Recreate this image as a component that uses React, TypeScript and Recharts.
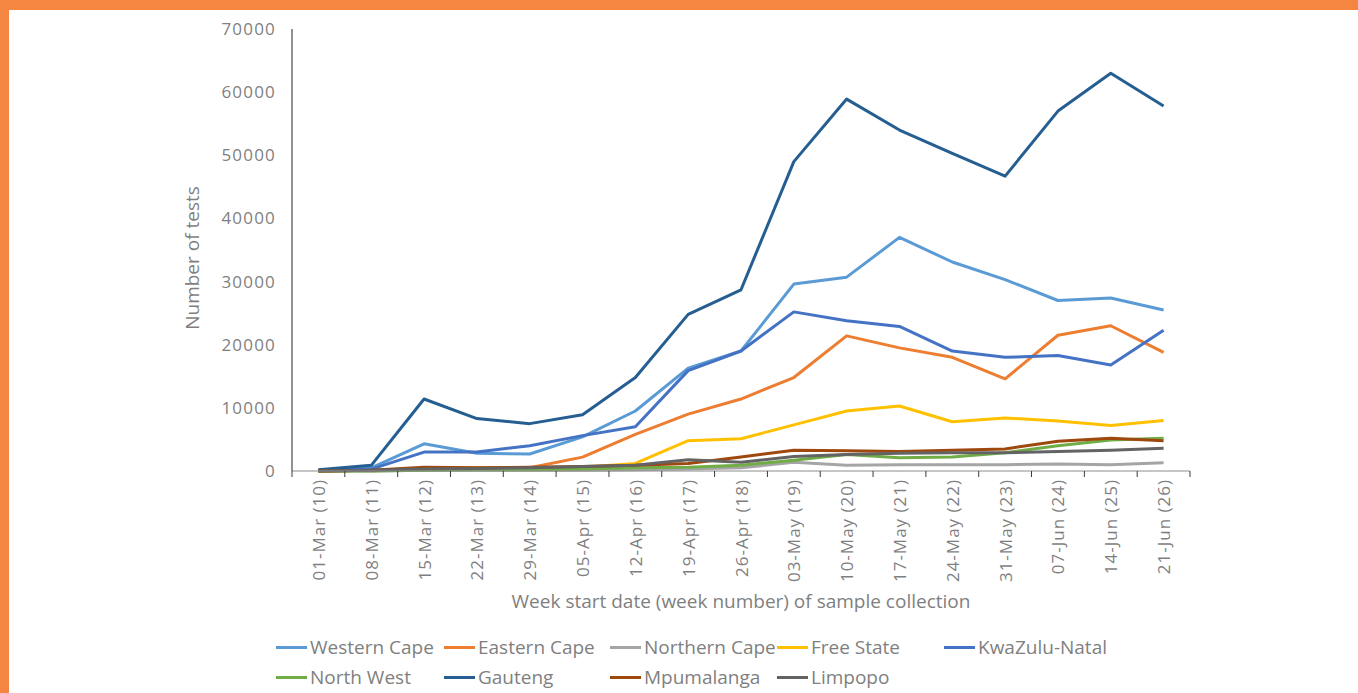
import React from "react";
import { LineChart, Line, XAxis, YAxis, Legend } from "recharts";

// Week start date (week number) of sample collection
const weeks = [
  "01-Mar (10)", "08-Mar (11)", "15-Mar (12)", "22-Mar (13)", "29-Mar (14)",
  "05-Apr (15)", "12-Apr (16)", "19-Apr (17)", "26-Apr (18)", "03-May (19)",
  "10-May (20)", "17-May (21)", "24-May (22)", "31-May (23)", "07-Jun (24)",
  "14-Jun (25)", "21-Jun (26)",
];

const westernCape = [100, 500, 4300, 2800, 2700, 5400, 9500, 16300, 19000, 29600, 30700, 37000, 33100, 30300, 27000, 27400, 25500];
const easternCape = [0, 100, 400, 500, 500, 2200, 5800, 9000, 11400, 14800, 21400, 19500, 18000, 14600, 21500, 23000, 18800];
const northernCape = [0, 0, 100, 100, 100, 100, 200, 300, 500, 1400, 900, 1000, 1000, 1000, 1100, 1000, 1300];
const freeState = [0, 100, 400, 500, 500, 600, 1200, 4800, 5100, 7300, 9500, 10300, 7800, 8400, 7900, 7200, 8000];
const kwaZuluNatal = [100, 300, 3000, 3000, 4000, 5600, 7000, 15900, 19000, 25200, 23800, 22900, 19000, 18000, 18300, 16800, 22300];
const northWest = [0, 0, 100, 200, 200, 300, 500, 600, 900, 1700, 2600, 2100, 2200, 2900, 4000, 4900, 5200];
const gauteng = [200, 900, 11400, 8300, 7500, 8900, 14800, 24800, 28700, 49000, 58900, 54000, 50300, 46700, 57000, 63000, 57800];
const mpumalanga = [0, 100, 600, 500, 600, 700, 900, 1200, 2200, 3300, 3200, 3100, 3300, 3500, 4700, 5200, 4800];
const limpopo = [0, 100, 300, 400, 500, 700, 900, 1800, 1400, 2300, 2600, 2800, 2900, 2900, 3100, 3300, 3600];

const yTicks = [0, 10000, 20000, 30000, 40000, 50000, 60000, 70000];

const series = [
  { key: "wc", name: "Western Cape", values: westernCape, color: "#5B9BD5" },
  { key: "ec", name: "Eastern Cape", values: easternCape, color: "#ED7D31" },
  { key: "nc", name: "Northern Cape", values: northernCape, color: "#A5A5A5" },
  { key: "fs", name: "Free State", values: freeState, color: "#FFC000" },
  { key: "kzn", name: "KwaZulu-Natal", values: kwaZuluNatal, color: "#4472C4" },
  { key: "nw", name: "North West", values: northWest, color: "#70AD47" },
  { key: "gp", name: "Gauteng", values: gauteng, color: "#255E91" },
  { key: "mp", name: "Mpumalanga", values: mpumalanga, color: "#9E480E" },
  { key: "lp", name: "Limpopo", values: limpopo, color: "#636363" },
];

const data = weeks.map((week, i) => {
  const row: any = { i, week };
  series.forEach((s) => (row[s.key] = s.values[i]));
  return row;
});

const W = 1358;
const H = 693;
const margin = { top: 29, right: 168, left: 172, bottom: 0 };
const plotW = W - margin.left - 120 - margin.right;
const step = plotW / weeks.length;
const FONT = "'Open Sans', sans-serif";
const GREY = "#7F7F7F";

const WeekTick = ({ x, y, payload }: any) => {
  const idx = payload.value;
  return (
    <g>
      <line x1={x - step / 2} x2={x - step / 2} y1={y} y2={y + 6} stroke="#3a3a3a" />
      {idx === weeks.length - 1 && (
        <line x1={x + step / 2} x2={x + step / 2} y1={y} y2={y + 6} stroke="#3a3a3a" />
      )}
      <text
        x={x}
        y={y + 8}
        transform={`rotate(-90, ${x}, ${y + 8})`}
        textAnchor="end"
        dominantBaseline="central"
        fill={GREY}
        fontSize={17}
        fontFamily={FONT}
        letterSpacing={1}
      >
        {weeks[idx]}
      </text>
    </g>
  );
};

// legend laid out like the original: 5 columns, 2 rows
const legendCols = [276, 444, 610, 777, 944];

const LegendGrid = () => (
  <div style={{ position: "relative", width: W, height: 82 }}>
    {series.map((s, n) => (
      <div
        key={s.key}
        style={{
          position: "absolute",
          left: legendCols[n % 5],
          top: n < 5 ? 23 : 53,
          display: "flex",
          alignItems: "center",
          fontFamily: FONT,
          fontSize: 19,
          color: GREY,
          whiteSpace: "nowrap",
        }}
      >
        <span style={{ display: "inline-block", width: 31, height: 3, background: s.color, marginRight: 3 }} />
        {s.name}
      </div>
    ))}
  </div>
);

export default function App() {
  return (
    <div style={{ position: "absolute", left: 0, top: 0, width: W, height: H, background: "#F58642" }}>
      <div style={{ position: "absolute", left: 9, top: 10, width: W - 9, height: H - 10, background: "#fff" }} />
      <div style={{ position: "absolute", left: 0, top: 0 }}>
        <LineChart width={W} height={H} data={data} margin={margin}>
          <XAxis
            dataKey="i"
            type="number"
            domain={[-0.5, weeks.length - 0.5]}
            ticks={weeks.map((_, i) => i)}
            interval={0}
            allowDataOverflow
            height={140}
            stroke="#8c8c8c"
            tickLine={false}
            tickSize={0}
            tickMargin={0}
            tick={<WeekTick />}
            label={{
              value: "Week start date (week number) of sample collection",
              position: "insideBottom",
              offset: 3,
              fill: GREY,
              fontSize: 19,
              fontFamily: FONT,
              style: { textAnchor: "middle" },
            }}
          />
          <YAxis
            width={120}
            domain={[0, 70000]}
            ticks={yTicks}
            interval={0}
            stroke="#262626"
            tickLine={false}
            tickSize={6}
            tickMargin={10}
            tick={{ fill: GREY, fontSize: 17, fontFamily: FONT, letterSpacing: 1.2 }}
            label={{
              value: "Number of tests",
              angle: -90,
              position: "insideLeft",
              offset: 20,
              dy: 8,
              fill: GREY,
              fontSize: 19,
              fontFamily: FONT,
              style: { textAnchor: "middle" },
            }}
          />
          <Legend
            verticalAlign="bottom"
            height={82}
            content={<LegendGrid />}
            wrapperStyle={{ left: 0, bottom: 0, width: W, height: 82 }}
          />
          {series.map((s) => (
            <Line
              key={s.key}
              dataKey={s.key}
              name={s.name}
              stroke={s.color}
              strokeWidth={3}
              dot={false}
              type="linear"
              strokeLinejoin="round"
              isAnimationActive={false}
            />
          ))}
        </LineChart>
      </div>
    </div>
  );
}
